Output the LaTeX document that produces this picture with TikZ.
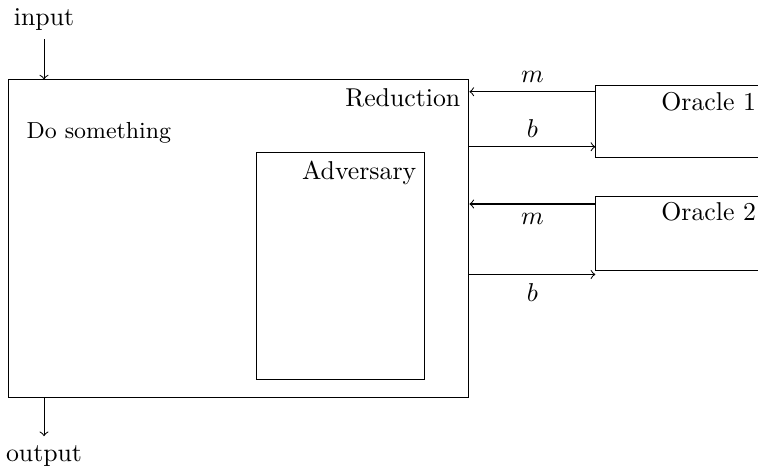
\documentclass[tikz,border=0pt]{standalone}
\usetikzlibrary{positioning}
\begin{document}
\begin{tikzpicture}[box/.style={draw,rectangle,inner sep=0pt}]
        \useasboundingbox (0,0) rectangle (10.33,6.40);

        \node[box,minimum width=6.28cm,minimum height=4.33cm] (red) at (3.25,3.145) {};
        \node[anchor=north east] (redlabel) at (red.north east) {Reduction};
        \node[anchor=west,font=\small] (todo) at (0.24,4.59) {Do something};

        \node[box,minimum width=2.29cm,minimum height=3.09cm] (adv) at (4.645,2.775) {};
        \node[anchor=north east] (advlabel) at (adv.north east) {Adversary};

        \node[box,minimum width=2.30cm,minimum height=0.98cm] (or1) at (9.27,4.74) {};
        \node[anchor=north east,yshift=1pt] (or1label) at (or1.north east) {Oracle 1};
        \node[box,minimum width=2.30cm,minimum height=1.0cm] (or2) at (9.27,3.22) {};
        \node[anchor=north east,yshift=1pt] (or2label) at (or2.north east) {Oracle 2};

        \draw[->] (or1.west |- 0,5.15) -- node[above] {\(m\)} (red.east |- 0,5.15);
        \draw[->] (red.east |- 0,4.40) -- node[above] {\(b\)} (or1.west |- 0,4.40);
        \draw[->] (or2.west |- 0,3.62) -- node[below] {\(m\)} (red.east |- 0,3.62);
        \draw[->] (red.east |- 0,2.66) -- node[below] {\(b\)} (or2.west |- 0,2.66);

        \node (in) at (0.60,6.14) {input};
        \node (out) at (0.60,0.19) {output};
        \draw[->] (in) -- (in |- red.north);
        \draw[->] (out |- red.south) -- (out);
    \end{tikzpicture}
\end{document}
